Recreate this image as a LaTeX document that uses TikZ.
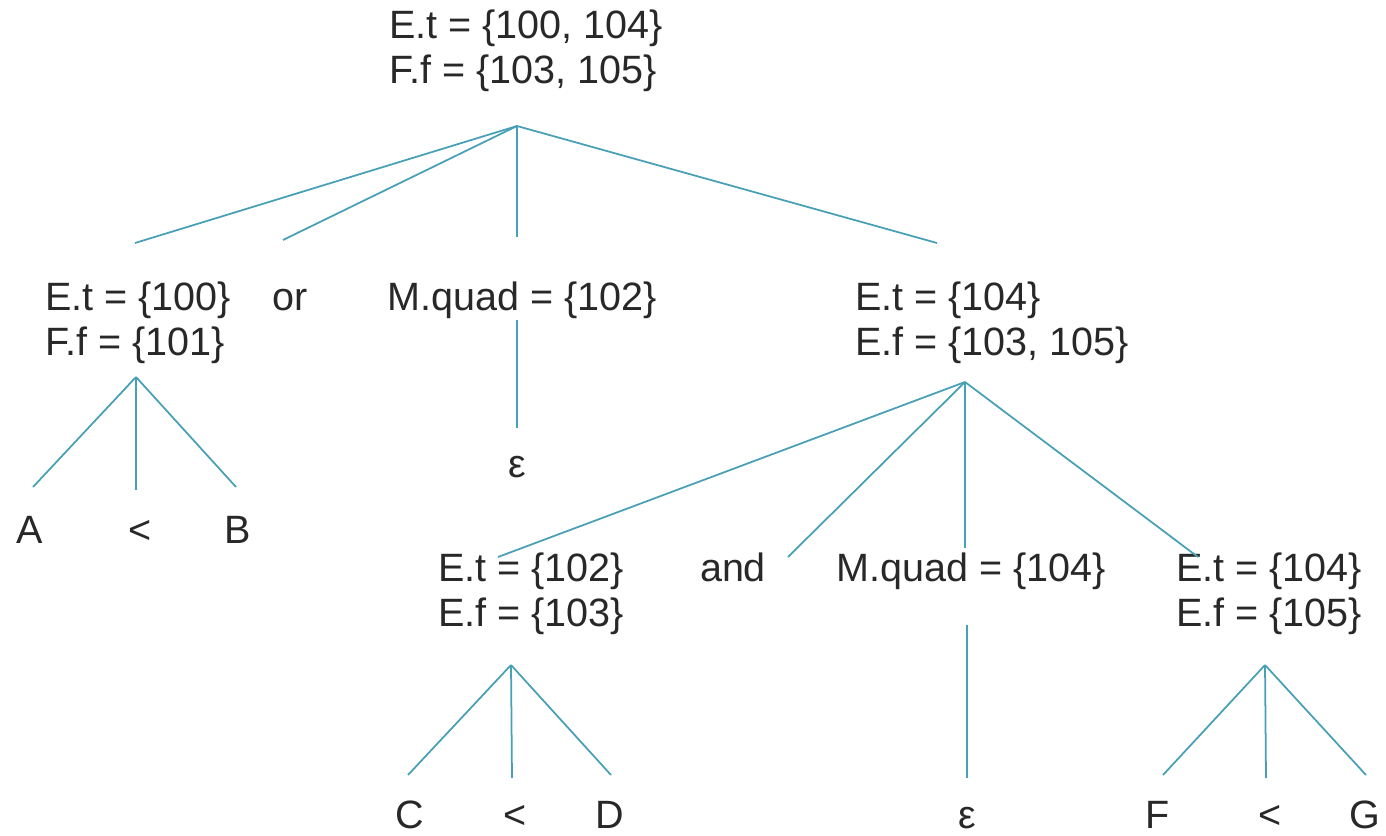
\documentclass[tikz,border=0pt]{standalone}
\usepackage{fontspec}
\setmainfont{Liberation Sans}
\definecolor{branch}{RGB}{72,160,182}
\definecolor{ink}{RGB}{40,40,40}

\begin{document}
\begin{tikzpicture}[
        x=0.02cm, y=-0.02cm,
        attr/.style={inner sep=0pt, align=left, anchor=base west, text=ink, font=\fontsize{22.5}{25.5}\selectfont},
        leaf/.style={inner sep=0pt, anchor=base, text=ink, font=\fontsize{22.5}{25.5}\selectfont},
        edge/.style={draw=branch, line width=1pt}
    ]
        \useasboundingbox (0,0) rectangle (1386,835);

        % Root (base anchor sits on the second line)
        \node[attr] (root) at (389,83) {E.t = \{100, 104\}\\F.f = \{103, 105\}};
        \coordinate (root-fork) at (517,126);

        % Level 1
        \node[attr] (t100) at (45,355) {E.t = \{100\}\\F.f = \{101\}};
        \node[leaf] (or) at (290,310) {or};
        \node[leaf] (q102) at (522,310) {M.quad = \{102\}};
        \node[attr] (t104) at (855,355) {E.t = \{104\}\\E.f = \{103, 105\}};
        \coordinate (t100-top) at (135,243);
        \coordinate (or-top) at (283,240);
        \coordinate (q102-top) at (517,237);
        \coordinate (t104-top) at (937,243);

        % Left subtree
        \coordinate (t100-fork) at (136,377);
        \node[leaf] (a) at (30,543) {A};
        \node[leaf] (lt1) at (140,543) {<};
        \node[leaf] (b) at (238,543) {B};
        \coordinate (a-top) at (33,487);
        \coordinate (lt1-top) at (136,490);
        \coordinate (b-top) at (236,487);

        % Empty quad
        \coordinate (q102-fork) at (517,320);
        \node[leaf] (eps1) at (517,477) {ε};
        \coordinate (eps1-top) at (517,428);

        % Level 2
        \coordinate (t104-fork) at (965,382);
        \node[attr] (t102) at (438,626) {E.t = \{102\}\\E.f = \{103\}};
        \node[leaf] (and) at (733,581) {and};
        \node[leaf] (q104) at (971,581) {M.quad = \{104\}};
        \node[attr] (t104b) at (1176,626) {E.t = \{104\}\\E.f = \{105\}};
        \coordinate (t102-top) at (498,557);
        \coordinate (and-top) at (788,557);
        \coordinate (q104-top) at (965,548);
        \coordinate (t104b-top) at (1198,557);

        % Leaves
        \coordinate (t102-fork) at (511,665);
        \node[leaf] (c) at (410,828) {C};
        \node[leaf] (lt2) at (515,828) {<};
        \node[leaf] (d) at (610,828) {D};
        \coordinate (c-top) at (408,775);
        \coordinate (lt2-top) at (512,778);
        \coordinate (d-top) at (611,775);

        \coordinate (q104-fork) at (967,625);
        \node[leaf] (eps2) at (967,828) {ε};
        \coordinate (eps2-top) at (967,778);

        \coordinate (t104b-fork) at (1265,665);
        \node[leaf] (f) at (1158,828) {F};
        \node[leaf] (lt3) at (1270,828) {<};
        \node[leaf] (g) at (1365,828) {G};
        \coordinate (f-top) at (1163,775);
        \coordinate (lt3-top) at (1266,778);
        \coordinate (g-top) at (1366,775);

        \draw[edge] (root-fork) -- (t100-top);
        \draw[edge] (root-fork) -- (or-top);
        \draw[edge] (root-fork) -- (q102-top);
        \draw[edge] (root-fork) -- (t104-top);
        \draw[edge] (t100-fork) -- (a-top);
        \draw[edge] (t100-fork) -- (lt1-top);
        \draw[edge] (t100-fork) -- (b-top);
        \draw[edge] (q102-fork) -- (eps1-top);
        \draw[edge] (t104-fork) -- (t102-top);
        \draw[edge] (t104-fork) -- (and-top);
        \draw[edge] (t104-fork) -- (q104-top);
        \draw[edge] (t104-fork) -- (t104b-top);
        \draw[edge] (t102-fork) -- (c-top);
        \draw[edge] (t102-fork) -- (lt2-top);
        \draw[edge] (t102-fork) -- (d-top);
        \draw[edge] (q104-fork) -- (eps2-top);
        \draw[edge] (t104b-fork) -- (f-top);
        \draw[edge] (t104b-fork) -- (lt3-top);
        \draw[edge] (t104b-fork) -- (g-top);
    \end{tikzpicture}
\end{document}
